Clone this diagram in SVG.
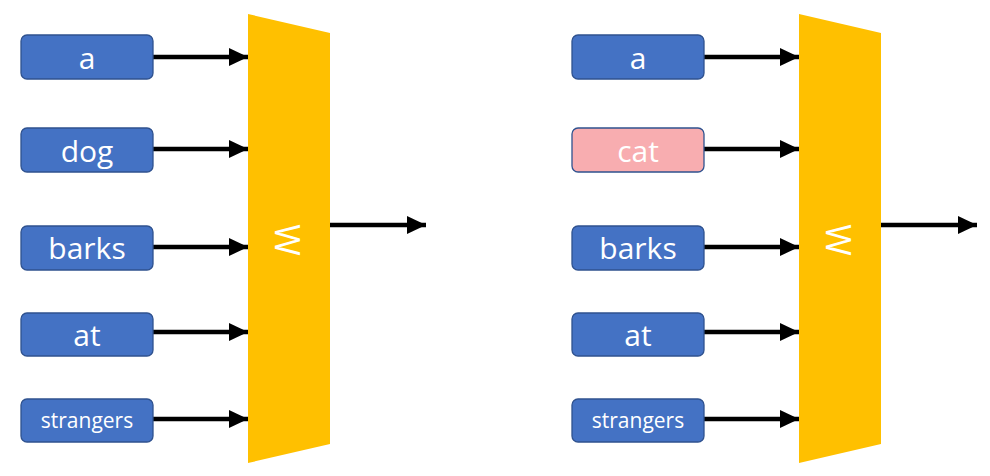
<svg xmlns="http://www.w3.org/2000/svg" width="990" height="476" viewBox="0 0 990 476">
<defs>
<style>
.box{fill:#4472C4;stroke:#2F528F;stroke-width:1.3}
.pink{fill:#F8ADB0;stroke:#2F528F;stroke-width:1.3}
.lbl{font-family:"Open Sans","Liberation Sans",sans-serif;font-size:30px;fill:#FFFFFF;text-anchor:middle}
.sm{font-size:21px}
.trap{fill:#FFC000}
.w{font-family:"Open Sans","Liberation Sans",sans-serif;font-weight:400;font-size:34px;fill:#FFFFFF;text-anchor:middle}
.arr{stroke:#000000;stroke-width:4.5;fill:none;marker-end:url(#ah)}
</style>
<marker id="ah" markerUnits="userSpaceOnUse" markerWidth="22" markerHeight="22" refX="19" refY="9" orient="auto">
<polygon points="0,0 19,9 0,18" fill="#000000"/>
</marker>
</defs>
<g id="connectors">
<line class="arr" x1="153" y1="57" x2="248" y2="57"/>
<line class="arr" x1="153" y1="149" x2="248" y2="149"/>
<line class="arr" x1="153" y1="247" x2="248" y2="247"/>
<line class="arr" x1="153" y1="332" x2="248" y2="332"/>
<line class="arr" x1="153" y1="419" x2="248" y2="419"/>
<line class="arr" x1="330" y1="225" x2="426" y2="225"/>
<line class="arr" x1="704" y1="57" x2="799" y2="57"/>
<line class="arr" x1="704" y1="149" x2="799" y2="149"/>
<line class="arr" x1="704" y1="247" x2="799" y2="247"/>
<line class="arr" x1="704" y1="332" x2="799" y2="332"/>
<line class="arr" x1="704" y1="419" x2="799" y2="419"/>
<line class="arr" x1="881" y1="225" x2="977" y2="225"/>
</g>
<g id="L_a"><rect class="box" x="21" y="35" width="132" height="44" rx="6"/><text class="lbl" x="87" y="69">a</text></g>
<g id="L_dog"><rect class="box" x="21" y="128" width="132" height="44" rx="6"/><text class="lbl" x="87" y="162">dog</text></g>
<g id="L_barks"><rect class="box" x="21" y="226" width="132" height="44" rx="6"/><text class="lbl" x="87" y="259">barks</text></g>
<g id="L_at"><rect class="box" x="21" y="313" width="132" height="43" rx="6"/><text class="lbl" x="87" y="346">at</text></g>
<g id="L_strangers"><rect class="box" x="21" y="399" width="132" height="43" rx="6"/><text class="lbl sm" x="87" y="428">strangers</text></g>
<g id="L_model"><polygon class="trap" points="248,14 330,33 330,444 248,463"/><text class="w" transform="translate(287,240) rotate(90)" x="0" y="12">W</text></g>
<g id="R_a"><rect class="box" x="572" y="35" width="132" height="44" rx="6"/><text class="lbl" x="638" y="69">a</text></g>
<g id="R_cat"><rect class="pink" x="572" y="128" width="132" height="44" rx="6"/><text class="lbl" x="638" y="162">cat</text></g>
<g id="R_barks"><rect class="box" x="572" y="226" width="132" height="44" rx="6"/><text class="lbl" x="638" y="259">barks</text></g>
<g id="R_at"><rect class="box" x="572" y="313" width="132" height="43" rx="6"/><text class="lbl" x="638" y="346">at</text></g>
<g id="R_strangers"><rect class="box" x="572" y="399" width="132" height="43" rx="6"/><text class="lbl sm" x="638" y="428">strangers</text></g>
<g id="R_model"><polygon class="trap" points="799,14 881,33 881,444 799,463"/><text class="w" transform="translate(838,240) rotate(90)" x="0" y="12">W</text></g>
</svg>
